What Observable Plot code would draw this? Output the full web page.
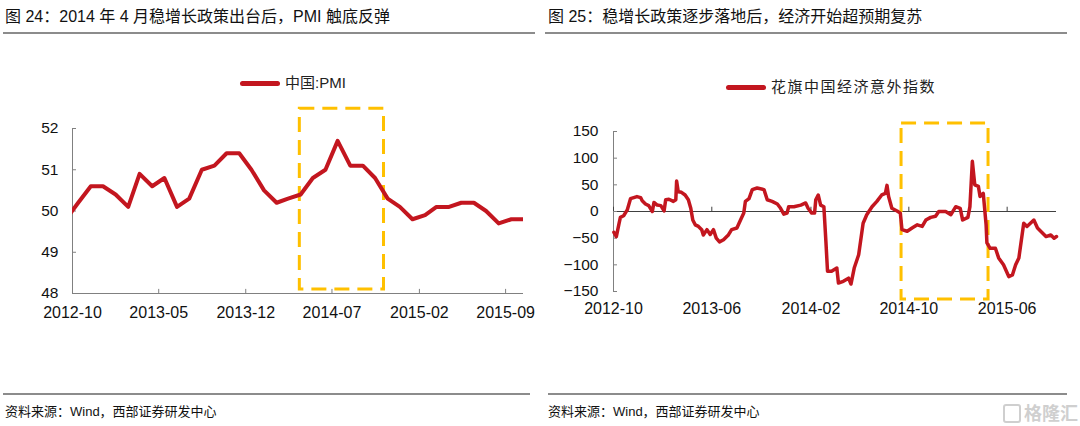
<!DOCTYPE html>
<html><head><meta charset="utf-8">
<script src="https://cdn.jsdelivr.net/npm/d3@7"></script>
<script src="https://cdn.jsdelivr.net/npm/@observablehq/plot@0.6"></script>
<style>
body{margin:0;width:1080px;height:426px;background:#fff;position:relative;overflow:hidden;font-family:"Liberation Sans","Noto Sans CJK SC",sans-serif;color:#111}
.abs{position:absolute}
.title{font-size:16px;line-height:20px;top:7px;white-space:nowrap;color:#111}
.rule{height:2px;background:#8c8c8c}
.src{font-size:13px;line-height:16px;top:404px;white-space:nowrap;color:#111}
.legend{display:flex;align-items:center;font-size:15px;line-height:18px;white-space:nowrap;color:#222}
.legend .sw{width:40px;height:5px;border-radius:3px;background:#C3161F;margin-right:5px}
.wrap{overflow:hidden}
</style></head>
<body>
<div class="abs title" style="left:5px">图 24：2014 年 4 月稳增长政策出台后，PMI 触底反弹</div>
<div class="abs title" style="left:548px">图 25：稳增长政策逐步落地后，经济开始超预期复苏</div>
<div class="abs rule" style="left:3px;top:32px;width:532px"></div>
<div class="abs rule" style="left:545px;top:32px;width:522px"></div>
<div class="abs legend" style="left:240px;top:74px"><span class="sw"></span><span>中国:PMI</span></div>
<div class="abs legend" style="left:726px;top:78px;letter-spacing:1.5px"><span class="sw"></span><span>花旗中国经济意外指数</span></div>
<div id="left" class="abs wrap" style="left:0;top:40px;width:538px;height:290px"></div>
<div id="right" class="abs wrap" style="left:540px;top:40px;width:540px;height:290px"></div>
<div class="abs rule" style="left:3px;top:393px;width:527px"></div>
<div class="abs rule" style="left:548px;top:393px;width:519px"></div>
<div class="abs src" style="left:5px">资料来源：Wind，西部证券研发中心</div>
<div class="abs src" style="left:548px">资料来源：Wind，西部证券研发中心</div>
<div class="abs" style="left:1003px;top:399px;font-size:18px;font-weight:bold;color:#cfcfcf;white-space:nowrap"><span style="display:inline-block;width:14px;height:15px;border:2px solid #cfcfcf;border-radius:3px;vertical-align:-3px;margin-right:3px"></span>格隆汇</div>
<script>
// ---------- data ----------
const pmiMonths = ["2012-09","2012-10","2012-11","2012-12",
  "2013-01","2013-02","2013-03","2013-04","2013-05","2013-06","2013-07","2013-08","2013-09","2013-10","2013-11","2013-12",
  "2014-01","2014-02","2014-03","2014-04","2014-05","2014-06","2014-07","2014-08","2014-09","2014-10","2014-11","2014-12",
  "2015-01","2015-02","2015-03","2015-04","2015-05","2015-06","2015-07","2015-08","2015-09","2015-10"];
const pmiValues = [49.8,50.2,50.6,50.6,
  50.4,50.1,50.9,50.6,50.8,50.1,50.3,51.0,51.1,51.4,51.4,51.0,
  50.5,50.2,50.3,50.4,50.8,51.0,51.7,51.1,51.1,50.8,50.3,50.1,
  49.8,49.9,50.1,50.1,50.2,50.2,50.0,49.7,49.8,49.8];
const pmiXTicks = ["2012-10","2013-05","2013-12","2014-07","2015-02","2015-09"];
const pmiYTicks = [48,49,50,51,52];
const pmiDomain = ["2012-10-01","2015-10-15"];
const pmiBoxX = ["2014-04-13","2014-11-06"];
const pmiBoxY = [48.1,52.48];

const ceDates = ["2012-10-02","2012-10-08","2012-10-14","2012-10-18","2012-10-26","2012-11-04","2012-11-12","2012-11-20","2012-11-28","2012-12-07","2012-12-11","2012-12-19","2012-12-27",
"2013-01-05","2013-01-09","2013-01-17","2013-01-26","2013-02-03","2013-02-07","2013-02-15","2013-02-26","2013-03-04","2013-03-06","2013-03-10","2013-03-18","2013-03-27",
"2013-04-04","2013-04-10","2013-04-15","2013-04-21","2013-04-29","2013-05-07","2013-05-11","2013-05-20","2013-05-28","2013-06-05","2013-06-12","2013-06-20","2013-06-30",
"2013-07-08","2013-07-12","2013-07-20","2013-08-02","2013-08-11","2013-08-19","2013-08-23","2013-09-01","2013-09-09","2013-09-21","2013-10-08","2013-10-16","2013-10-28",
"2013-11-10","2013-11-18","2013-11-26","2013-12-04","2013-12-08","2013-12-21","2014-01-07","2014-01-19","2014-01-25","2014-02-03","2014-02-10","2014-02-13","2014-02-19","2014-02-25",
"2014-03-05","2014-03-10","2014-03-14","2014-03-24","2014-04-06","2014-04-10","2014-04-22","2014-05-05","2014-05-11","2014-05-19","2014-05-30","2014-06-10","2014-06-19",
"2014-07-02","2014-07-14","2014-07-26","2014-08-04","2014-08-08","2014-08-12","2014-08-20","2014-09-02","2014-09-10","2014-09-14","2014-09-27","2014-10-09","2014-10-22",
"2014-11-03","2014-11-12","2014-11-24","2014-12-06","2014-12-14","2014-12-31","2015-01-13","2015-01-25","2015-02-05","2015-02-11","2015-02-24","2015-03-01","2015-03-07",
"2015-03-13","2015-03-22","2015-03-26","2015-04-03","2015-04-10","2015-04-12","2015-04-20","2015-05-03","2015-05-11","2015-05-23","2015-06-05","2015-06-14","2015-06-22",
"2015-06-30","2015-07-12","2015-07-20","2015-08-06","2015-08-15","2015-08-23","2015-09-05","2015-09-17","2015-09-25","2015-10-01"];
const ceValues = [-39,-47,-25,-11,-8,3,24,26,28,26,20,14,11,
0,17,12,11,1,22,23,19,22,57,37,36,31,
22,6,-16,-25,-28,-34,-44,-34,-43,-34,-50,-57,-53,
-47,-44,-34,-31,-16,-3,19,24,41,44,41,22,19,
14,6,-5,-3,9,9,12,16,6,-3,-3,22,31,12,
9,-56,-112,-112,-106,-134,-131,-125,-136,-106,-81,-22,-6,
9,19,31,34,49,28,6,1,-3,-34,-37,-31,-25,
-28,-16,-11,-9,0,0,-6,9,6,-16,-11,9,94,
50,47,28,34,-25,-59,-69,-69,-87,-100,-122,-119,-100,
-87,-22,-28,-16,-31,-37,-47,-44,-50,-47];
const ceXTicks = ["2012-10","2013-06","2014-02","2014-10","2015-06"];
const ceYTicks = [-150,-100,-50,0,50,100,150];
const ceDomain = ["2012-10-01","2015-10-01"];
const ceBoxX = ["2014-09-13","2015-04-16"];
const ceBoxY = [-165,165];

// ---------- helpers ----------
const RED = "#C3161F", GOLD = "#FFC000", AXIS = "#808080";
const day = s => new Date(s + "T00:00:00Z");
const monthStart = s => day(s + "-01");
const monthMid = s => day(s + "-15");
const fmtMonth = d3.utcFormat("%Y-%m");
const fmtInt = d3.format("d");
const style = {fontFamily: "'Liberation Sans', Arial, sans-serif", fontSize: "15.5px", color: "#111", background: "transparent", overflow: "visible"};

// ---------- left: PMI ----------
const pmi = pmiMonths.map((m, i) => ({date: monthMid(m), value: pmiValues[i]}));
const pmiTickDates = pmiXTicks.map(monthStart);
const leftBox = [{x1: day(pmiBoxX[0]), x2: day(pmiBoxX[1]), y1: pmiBoxY[0], y2: pmiBoxY[1]}];

const left = Plot.plot({
  width: 538, height: 290,
  marginLeft: 72, marginRight: 15, marginTop: 88, marginBottom: 37,
  style,
  x: {type: "utc", domain: pmiDomain.map(day), label: null},
  y: {domain: [pmiYTicks[0], pmiYTicks[pmiYTicks.length - 1]], label: null},
  marks: [
    Plot.ruleY([pmiYTicks[0]], {stroke: AXIS}),
    Plot.ruleX([day(pmiDomain[0])], {stroke: AXIS}),
    Plot.ruleX(pmiTickDates, {x: d => d, y1: pmiYTicks[0], y2: pmiYTicks[0] + 0.1, stroke: AXIS}),
    Plot.axisY({ticks: pmiYTicks, tickSize: 4, dx: 4, fill: "none", stroke: AXIS}),
    Plot.axisY({ticks: pmiYTicks, tickSize: 0, tickPadding: 14, fontSize: 15.5, fill: "#111", tickFormat: fmtInt}),
    Plot.axisX({ticks: pmiTickDates, tickSize: 0, tickPadding: 13, fontSize: 16, fill: "#111", tickFormat: fmtMonth}),
    Plot.rect(leftBox, {x1: "x1", x2: "x2", y1: "y1", y2: "y2", fill: "none", stroke: GOLD, strokeWidth: 3, strokeDasharray: "15,8"}),
    Plot.line(pmi, {x: "date", y: "value", stroke: RED, strokeWidth: 4, strokeLinejoin: "round", clip: true})
  ]
});
document.getElementById("left").appendChild(left);

// ---------- right: Citi surprise index ----------
const ce = ceDates.map((d, i) => ({date: day(d), value: ceValues[i]}));
const ceTickDates = ceXTicks.map(monthStart);
const rightBox = [{x1: day(ceBoxX[0]), x2: day(ceBoxX[1]), y1: ceBoxY[0], y2: ceBoxY[1]}];

const right = Plot.plot({
  width: 540, height: 290,
  marginLeft: 73, marginRight: 24, marginTop: 91, marginBottom: 39,
  style,
  x: {type: "utc", domain: ceDomain.map(day), label: null},
  y: {domain: [ceYTicks[0], ceYTicks[ceYTicks.length - 1]], label: null},
  marks: [
    Plot.ruleX([day(ceDomain[0])], {stroke: AXIS}),
    Plot.ruleY([0], {stroke: "#404040"}),
    Plot.ruleX(ceTickDates, {x: d => d, y1: 0, y2: 8, stroke: "#404040"}),
    Plot.axisY({ticks: ceYTicks, tickSize: 4, dx: 4, fill: "none", stroke: AXIS}),
    Plot.axisY({ticks: ceYTicks, tickSize: 0, tickPadding: 15, fontSize: 15.5, fill: "#111", tickFormat: fmtInt}),
    Plot.axisX({ticks: ceTickDates, tickSize: 0, tickPadding: 11, fontSize: 16, fill: "#111", tickFormat: fmtMonth}),
    Plot.rect(rightBox, {x1: "x1", x2: "x2", y1: "y1", y2: "y2", fill: "none", stroke: GOLD, strokeWidth: 3, strokeDasharray: "15,8"}),
    Plot.line(ce, {x: "date", y: "value", stroke: RED, strokeWidth: 3.5, strokeLinejoin: "round"})
  ]
});
document.getElementById("right").appendChild(right);
</script>
</body></html>
